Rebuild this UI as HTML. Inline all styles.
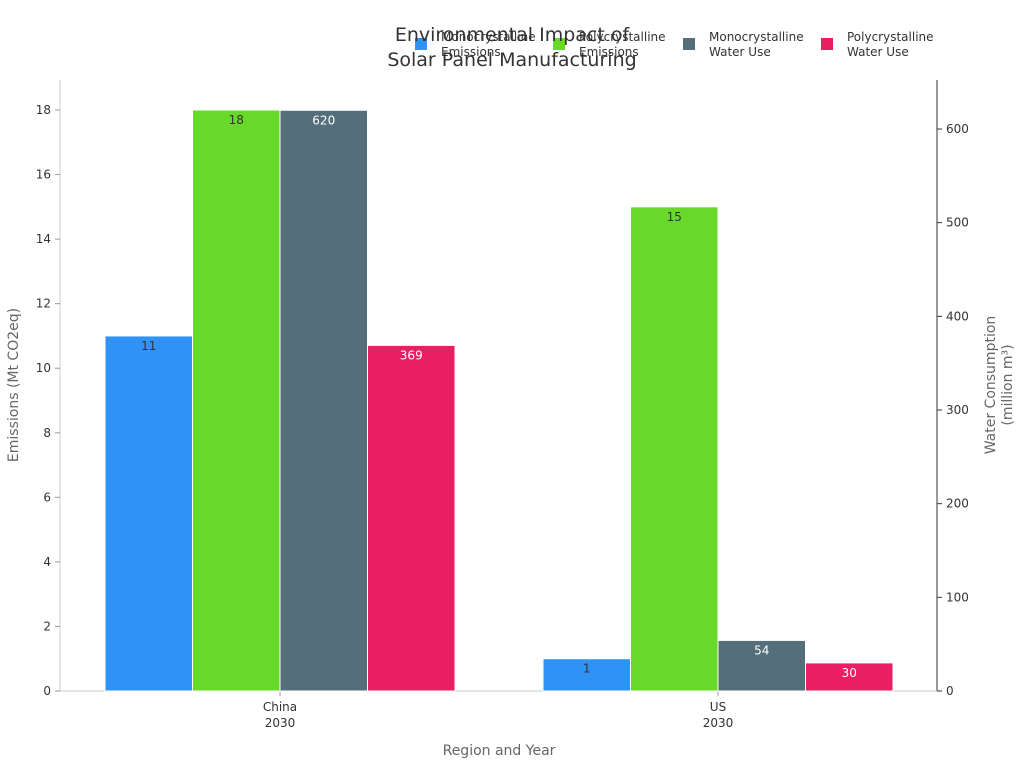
<!DOCTYPE html>
<html><head><meta charset="utf-8"><style>
body{margin:0;background:#fff;font-family:"Liberation Sans","DejaVu Sans",sans-serif}
text{font-family:"DejaVu Sans","Liberation Sans",sans-serif}
</style></head><body>
<svg id="chart" width="1024" height="768" xmlns="http://www.w3.org/2000/svg">
<g id="axes"></g><g id="bars"></g><g id="legend"></g>
<text x="512" y="41" text-anchor="middle" font-size="19" fill="#333">Environmental Impact of</text>
<text x="512" y="66" text-anchor="middle" font-size="19" fill="#333">Solar Panel Manufacturing</text>
<text x="499" y="755" text-anchor="middle" font-size="14" fill="#666">Region and Year</text>
<text transform="translate(18,385) rotate(-90)" text-anchor="middle" font-size="14" fill="#666">Emissions (Mt CO2eq)</text>
<text transform="translate(995,385) rotate(-90)" text-anchor="middle" font-size="14" fill="#666">Water Consumption</text>
<text transform="translate(1012,385) rotate(-90)" text-anchor="middle" font-size="14" fill="#666">(million m³)</text>
</svg>
<script>
const categories=["China|2030","US|2030"];
const monoEmissions=[11,1];
const polyEmissions=[18,15];
const monoWater=[620,54];
const polyWater=[369,30];
const leftTicks=[0,2,4,6,8,10,12,14,16,18];
const rightTicks=[0,100,200,300,400,500,600];
const NS="http://www.w3.org/2000/svg";
const X0=60,X1=937,Y0=691;
const yL=v=>Y0-v*(581/18);
const yR=v=>Y0-v*(562/600);
const cx=i=>X0+220+i*438;
const BW=87.5;
function mk(tag,attrs,parent,txt){const e=document.createElementNS(NS,tag);for(const k in attrs)e.setAttribute(k,attrs[k]);if(txt!==undefined)e.textContent=txt;parent.appendChild(e);return e;}
const axes=document.getElementById('axes'),bars=document.getElementById('bars'),leg=document.getElementById('legend');
let l=mk('line',{x1:X0,y1:80,x2:X0,y2:Y0,stroke:'#ccc'},axes);


l=mk('line',{x1:X1,y1:80,x2:X1,y2:Y0,stroke:'#333'},axes);


l=mk('line',{x1:X0,y1:Y0,x2:X1,y2:Y0,stroke:'#ccc'},axes);


leftTicks.forEach(v=>{const y=yL(v);
 mk('line',{x1:X0-5,y1:y,x2:X0,y2:y,stroke:'#999'},axes);
 const t=mk('text',{x:X0-9,y:y+4,'text-anchor':'end','font-size':12,fill:'#333'},axes,v);
 
 });
rightTicks.forEach(v=>{const y=yR(v);
 mk('line',{x1:X1,y1:y,x2:X1+5,y2:y,stroke:'#333'},axes);
 const t=mk('text',{x:X1+9,y:y+4,'font-size':12,fill:'#333'},axes,v);
 
 });
categories.forEach((c,i)=>{const p=c.split('|');
 mk('line',{x1:cx(i),y1:Y0,x2:cx(i),y2:Y0+5,stroke:'#999'},axes);
 const t=mk('text',{x:cx(i),y:Y0+20,'text-anchor':'middle','font-size':12,fill:'#333'},axes,p[0]);
 
 
 const t2=mk('text',{x:cx(i),y:Y0+36,'text-anchor':'middle','font-size':12,fill:'#333'},axes,p[1]);
 
 });
const series=[
 {name:'mono-emissions',data:monoEmissions,sc:yL,col:'#2f92f5',lc:'#333',l1:'Monocrystalline',l2:'Emissions'},
 {name:'poly-emissions',data:polyEmissions,sc:yL,col:'#68d929',lc:'#333',l1:'Polycrystalline',l2:'Emissions'},
 {name:'mono-water',data:monoWater,sc:yR,col:'#546e7a',lc:'#fff',l1:'Monocrystalline',l2:'Water Use'},
 {name:'poly-water',data:polyWater,sc:yR,col:'#e91e63',lc:'#fff',l1:'Polycrystalline',l2:'Water Use'}];
series.forEach((s,si)=>{
 s.data.forEach((v,i)=>{const x=cx(i)-2*BW+si*BW,y=s.sc(v);
  const r=mk('rect',{x:x,y:y,width:BW,height:Y0-y,fill:s.col,stroke:'#fff','stroke-width':1},bars);
  
  
  const t=mk('text',{x:x+BW/2,y:y+14,'text-anchor':'middle','font-size':12,fill:s.lc},bars,v);
  
  });
 const lx=[415,553,683,821][si];
 const g=mk('g',{},leg);
 
 
 mk('rect',{x:lx,y:38,width:12,height:12,fill:s.col},g);
 mk('text',{x:lx+26,y:41,'font-size':12,fill:'#333'},g,s.l1);
 mk('text',{x:lx+26,y:56,'font-size':12,fill:'#333'},g,s.l2);
});
</script>
</body></html>
